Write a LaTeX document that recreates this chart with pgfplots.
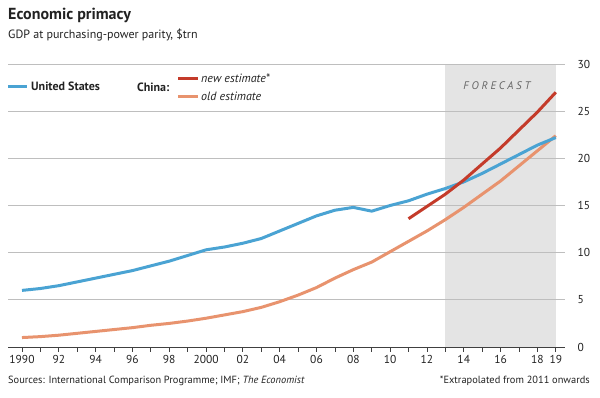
\documentclass[border=0pt]{standalone}
\usepackage{pgfplots}
\pgfplotsset{compat=1.18}
\usepackage{fontspec}
\setmainfont{PT Sans}
\definecolor{usblue}{HTML}{4AA3D3}
\definecolor{cnred}{HTML}{C43B2A}
\definecolor{cnold}{HTML}{E8936E}
\definecolor{fc}{HTML}{E4E4E4}
\definecolor{gridc}{HTML}{BEBEBE}
\definecolor{txt}{HTML}{222222}
\begin{document}
\begin{tikzpicture}
\path (0pt,0pt) rectangle (600pt,398pt);
\begin{axis}[at={(8pt,51pt)}, anchor=south west, scale only axis,
  width=557pt, height=283pt, set layers,
  xmin=1989.24, xmax=2019.5, ymin=0, ymax=30,
  axis x line*=bottom, axis y line*=right,
  y axis line style={draw=none},
  x axis line style={draw=black!75, line width=0.8pt, -},
  ytick={0,5,...,30}, ymajorgrids,
  grid style={gridc, line width=0.9pt},
  ytick style={draw=none},
  yticklabel style={font=\fontsize{11.5}{12}\selectfont, text=txt, xshift=4pt},
  /pgf/number format/assume math mode=true,
  xtick={1990,1992,...,2018,2019},
  xticklabels={1990,92,94,96,98,2000,02,04,06,08,10,12,14,16,18,19},
  minor xtick={1991,1993,...,2017},
  xticklabel style={font=\fontsize{11.5}{12}\selectfont, text=txt},
  tick align=outside, major tick length=5pt, minor tick length=5pt,
  x tick style={draw=black!75, line width=0.8pt},
  clip=false,
]
\addplot[fill=fc, draw=none, on layer=axis background] coordinates {(2013,0)(2013,30)(2019,30)(2019,0)} -- cycle;
\node[font=\itshape\fontsize{11}{12}\selectfont\addfontfeature{LetterSpace=25}, text=black!60] at (axis cs:2015.8,27.7) {FORECAST};
\addplot[cnold, line width=3pt] coordinates {
(1990,1.0)(1991,1.1)(1992,1.25)(1993,1.45)(1994,1.65)(1995,1.85)(1996,2.05)(1997,2.3)(1998,2.5)(1999,2.75)
(2000,3.05)(2001,3.4)(2002,3.75)(2003,4.2)(2004,4.8)(2005,5.5)(2006,6.3)(2007,7.3)(2008,8.2)(2009,9.0)
(2010,10.1)(2011,11.2)(2012,12.3)(2013,13.5)(2014,14.8)(2015,16.2)(2016,17.6)(2017,19.2)(2018,20.8)(2019,22.4)};
\addplot[usblue, line width=3pt] coordinates {
(1990,6.0)(1991,6.2)(1992,6.5)(1993,6.9)(1994,7.3)(1995,7.7)(1996,8.1)(1997,8.6)(1998,9.1)(1999,9.7)
(2000,10.3)(2001,10.6)(2002,11.0)(2003,11.5)(2004,12.3)(2005,13.1)(2006,13.9)(2007,14.5)(2008,14.8)(2009,14.4)
(2010,15.0)(2011,15.5)(2012,16.2)(2013,16.8)(2014,17.5)(2015,18.4)(2016,19.4)(2017,20.4)(2018,21.4)(2019,22.2)};
\addplot[cnred, line width=3pt] coordinates {
(2011,13.6)(2012,14.9)(2013,16.2)(2014,17.7)(2015,19.4)(2016,21.1)(2017,23.0)(2018,24.9)(2019,27.0)};
\end{axis}
% titles
\node[anchor=base west, inner sep=0, font=\bfseries\fontsize{16}{18}\selectfont, text=txt] at (8pt,378pt) {Economic primacy};
\node[anchor=base west, inner sep=0, font=\fontsize{12}{14}\selectfont, text=txt] at (8pt,359pt) {GDP at purchasing-power parity, \$trn};
% legend
\draw[usblue, line width=3pt] (8pt,311pt) -- (27pt,311pt);
\node[anchor=base west, inner sep=0, font=\bfseries\fontsize{12}{14}\selectfont, text=txt] at (31pt,307pt) {United States};
\node[anchor=base west, inner sep=0, font=\bfseries\fontsize{12}{14}\selectfont, text=txt] at (137pt,306pt) {China:};
\draw[cnred, line width=3pt] (178pt,319pt) -- (198pt,319pt);
\draw[cnold, line width=3pt] (178pt,301pt) -- (198pt,301pt);
\node[anchor=base west, inner sep=0, font=\itshape\fontsize{12}{14}\selectfont, text=txt] at (201pt,315pt) {new estimate*};
\node[anchor=base west, inner sep=0, font=\itshape\fontsize{12}{14}\selectfont, text=txt] at (201pt,297pt) {old estimate};
% footer
\node[anchor=base west, inner sep=0, font=\fontsize{10.4}{12}\selectfont, text=txt] at (8pt,14pt) {Sources: International Comparison Programme; IMF; \textit{The Economist}};
\node[anchor=base east, inner sep=0, font=\fontsize{10.4}{12}\selectfont, text=txt] at (590pt,14pt) {*Extrapolated from 2011 onwards};
\end{tikzpicture}
\end{document}
